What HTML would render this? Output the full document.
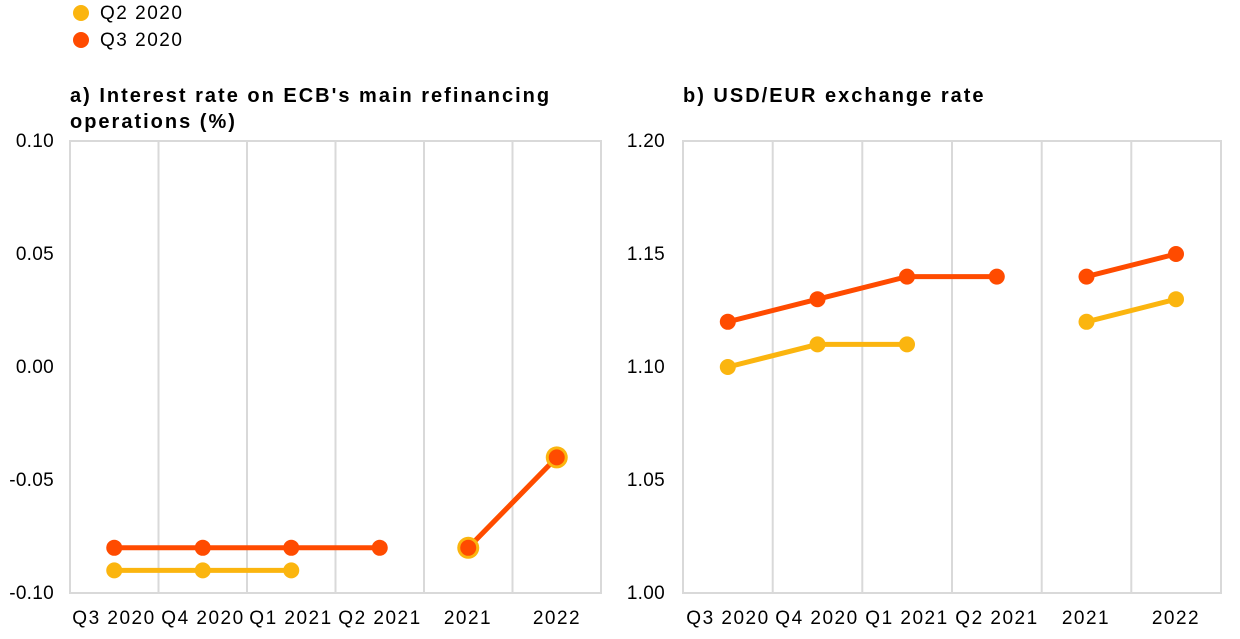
<!DOCTYPE html>
<html><head><meta charset="utf-8"><style>
body{margin:0;background:#fff;}
svg{display:block;font-family:"Liberation Sans",Arial,sans-serif;}
</style></head><body>
<svg width="1240" height="639" viewBox="0 0 1240 639">
<!-- legend -->
<circle cx="81" cy="13" r="8" fill="#fbb50f"/>
<text x="100" y="19" font-size="19" letter-spacing="1.5" fill="#000">Q2 2020</text>
<circle cx="81" cy="40" r="8" fill="#ff4b00"/>
<text x="100" y="46" font-size="19" letter-spacing="1.5" fill="#000">Q3 2020</text>
<!-- titles -->
<text x="70" y="102" font-size="20" font-weight="bold" letter-spacing="2">a) Interest rate on ECB's main refinancing</text>
<text x="70" y="128" font-size="20" font-weight="bold" letter-spacing="2">operations (%)</text>
<text x="683" y="102" font-size="20" font-weight="bold" letter-spacing="2">b) USD/EUR exchange rate</text>
<g stroke="#d9d9d9" stroke-width="2" fill="none">
<rect x="70" y="141" width="531" height="452"/>
<line x1="158.5" y1="141" x2="158.5" y2="593"/><line x1="247" y1="141" x2="247" y2="593"/><line x1="335.5" y1="141" x2="335.5" y2="593"/><line x1="424" y1="141" x2="424" y2="593"/><line x1="512.5" y1="141" x2="512.5" y2="593"/>
<rect x="683" y="141" width="538" height="452"/>
<line x1="772.7" y1="141" x2="772.7" y2="593"/><line x1="862.3" y1="141" x2="862.3" y2="593"/><line x1="952" y1="141" x2="952" y2="593"/><line x1="1041.7" y1="141" x2="1041.7" y2="593"/><line x1="1131.3" y1="141" x2="1131.3" y2="593"/>
</g>
<g font-size="19" text-anchor="end" letter-spacing="0.3">
<text x="54" y="147">0.10</text><text x="54" y="260">0.05</text><text x="54" y="373">0.00</text><text x="54" y="486">-0.05</text><text x="54" y="599">-0.10</text>
<text x="665" y="147">1.20</text><text x="665" y="260">1.15</text><text x="665" y="373">1.10</text><text x="665" y="486">1.05</text><text x="665" y="599">1.00</text>
</g>
<g font-size="19" text-anchor="middle" letter-spacing="1.5">
<text x="114" y="624">Q3 2020</text><text x="203" y="624">Q4 2020</text><text x="291" y="624">Q1 2021</text><text x="380" y="624">Q2 2021</text><text x="468" y="624">2021</text><text x="557" y="624">2022</text>
<text x="728" y="624">Q3 2020</text><text x="817" y="624">Q4 2020</text><text x="907" y="624">Q1 2021</text><text x="997" y="624">Q2 2021</text><text x="1086" y="624">2021</text><text x="1176" y="624">2022</text>
</g>
<!-- left chart -->
<g stroke-width="5" fill="none">
<polyline points="114.25,570.4 202.75,570.4 291.25,570.4" stroke="#fbb50f"/>
<polyline points="468.25,547.8 556.75,457.4" stroke="#fbb50f"/>
<polyline points="114.25,547.8 202.75,547.8 291.25,547.8 379.75,547.8" stroke="#ff4b00"/>
<polyline points="468.25,547.8 556.75,457.4" stroke="#ff4b00"/>
</g>
<g fill="#fbb50f">
<circle cx="114.25" cy="570.4" r="8"/><circle cx="202.75" cy="570.4" r="8"/><circle cx="291.25" cy="570.4" r="8"/>
<circle cx="468.25" cy="547.8" r="11"/><circle cx="556.75" cy="457.4" r="11"/>
</g>
<g fill="#ff4b00">
<circle cx="114.25" cy="547.8" r="8"/><circle cx="202.75" cy="547.8" r="8"/><circle cx="291.25" cy="547.8" r="8"/><circle cx="379.75" cy="547.8" r="8"/>
<circle cx="468.25" cy="547.8" r="8"/><circle cx="556.75" cy="457.4" r="8"/>
</g>
<!-- right chart -->
<g stroke-width="5" fill="none">
<polyline points="727.8,367 817.5,344.4 907,344.4" stroke="#fbb50f"/>
<polyline points="1086.5,321.8 1176,299.2" stroke="#fbb50f"/>
<polyline points="727.8,321.8 817.5,299.2 907,276.6 996.8,276.6" stroke="#ff4b00"/>
<polyline points="1086.5,276.6 1176,254" stroke="#ff4b00"/>
</g>
<g fill="#fbb50f">
<circle cx="727.8" cy="367" r="8"/><circle cx="817.5" cy="344.4" r="8"/><circle cx="907" cy="344.4" r="8"/>
<circle cx="1086.5" cy="321.8" r="8"/><circle cx="1176" cy="299.2" r="8"/>
</g>
<g fill="#ff4b00">
<circle cx="727.8" cy="321.8" r="8"/><circle cx="817.5" cy="299.2" r="8"/><circle cx="907" cy="276.6" r="8"/><circle cx="996.8" cy="276.6" r="8"/>
<circle cx="1086.5" cy="276.6" r="8"/><circle cx="1176" cy="254" r="8"/>
</g>
</svg>
</body></html>
